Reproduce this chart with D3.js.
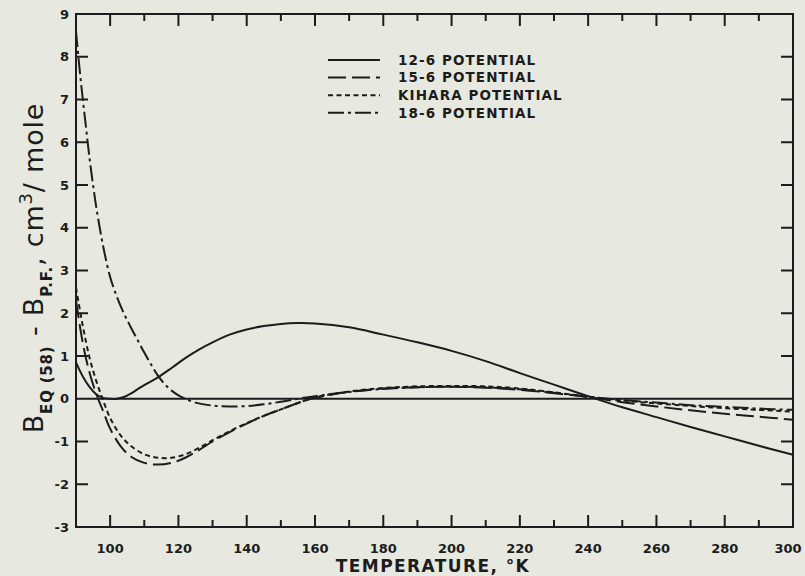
<!DOCTYPE html>
<html>
<head>
<meta charset="utf-8">
<script src="https://cdn.jsdelivr.net/npm/d3@7"></script>
<style>
  html, body { margin: 0; padding: 0; background: #e7e9e0; overflow: hidden; }
  #chart { position: relative; width: 805px; height: 576px; }
  svg { display: block; font-family: "DejaVu Sans", "Liberation Sans", sans-serif; }
  .frame { position: absolute; box-sizing: border-box; border: 2px solid #1c1c1c; pointer-events: none; }
</style>
</head>
<body>
<div id="chart"></div>
<script>
// temperatures (°K) and B_EQ(58) - B_P.F. (cm^3/mole)
const temps126 = [90, 92, 94, 96, 98, 100, 102, 104, 106, 108, 110, 114, 118, 122, 126, 130, 135, 140, 145, 150, 155, 160, 170, 180, 190, 200, 210, 220, 230, 240, 250, 260, 270, 280, 290, 300];
const vals126  = [0.85, 0.52, 0.27, 0.1, 0.02, 0.0, 0.0, 0.04, 0.12, 0.22, 0.32, 0.5, 0.72, 0.95, 1.15, 1.32, 1.5, 1.62, 1.7, 1.75, 1.77, 1.76, 1.67, 1.5, 1.32, 1.12, 0.88, 0.6, 0.33, 0.06, -0.2, -0.43, -0.66, -0.88, -1.1, -1.31];

const temps156 = [90, 92, 94, 96, 98, 100, 103, 106, 110, 114, 118, 122, 126, 130, 135, 140, 145, 150, 155, 160, 170, 180, 190, 200, 210, 220, 230, 240, 250, 260, 270, 280, 290, 300];
const vals156  = [2.3, 1.3, 0.6, 0.1, -0.3, -0.7, -1.1, -1.35, -1.5, -1.54, -1.5, -1.38, -1.2, -1.0, -0.78, -0.58, -0.4, -0.25, -0.1, 0.02, 0.16, 0.24, 0.27, 0.28, 0.26, 0.21, 0.13, 0.04, -0.08, -0.18, -0.27, -0.35, -0.42, -0.49];

const tempsKih = [90, 92, 94, 96, 98, 100, 103, 106, 110, 114, 118, 122, 126, 130, 135, 140, 145, 150, 155, 160, 170, 180, 190, 200, 210, 220, 230, 240, 250, 260, 270, 280, 290, 300];
const valsKih  = [2.6, 1.7, 0.95, 0.4, -0.05, -0.45, -0.85, -1.1, -1.3, -1.38, -1.38, -1.3, -1.15, -0.97, -0.76, -0.57, -0.4, -0.25, -0.1, 0.03, 0.17, 0.25, 0.29, 0.3, 0.29, 0.24, 0.15, 0.05, -0.04, -0.11, -0.17, -0.22, -0.26, -0.30];

const temps186 = [90, 91, 92, 93, 94, 95, 96, 98, 100, 102, 104, 106, 108, 110, 112, 114, 116, 118, 120, 122, 125, 130, 135, 140, 145, 150, 155, 160, 170, 180, 190, 200, 210, 220, 230, 240, 250, 260, 270, 280, 290, 300];
const vals186  = [8.6, 7.75, 7.0, 6.3, 5.6, 5.0, 4.45, 3.55, 2.85, 2.38, 2.0, 1.68, 1.38, 1.08, 0.8, 0.54, 0.34, 0.19, 0.08, 0.0, -0.09, -0.16, -0.18, -0.17, -0.13, -0.07, 0.0, 0.06, 0.16, 0.23, 0.27, 0.28, 0.27, 0.22, 0.14, 0.05, -0.03, -0.09, -0.15, -0.19, -0.23, -0.26];

const seriesNames = ['12-6 POTENTIAL', '15-6 POTENTIAL', 'KIHARA POTENTIAL', '18-6 POTENTIAL'];
const xTickLabels = [100, 120, 140, 160, 180, 200, 220, 240, 260, 280, 300];
const yTickLabels = [-3, -2, -1, 0, 1, 2, 3, 4, 5, 6, 7, 8, 9];

const width = 805, height = 576;
const margin = { top: 14, right: 12, bottom: 49, left: 76 };
const ink = '#1c1c1c';

const svg = d3.select('#chart').append('svg')
    .attr('width', width)
    .attr('height', height);

const x = d3.scaleLinear().domain([90, 300]).range([margin.left, width - margin.right]);
const y = d3.scaleLinear().domain([-3, 9]).range([height - margin.bottom, margin.top]);
const plotL = x(90), plotR = x(300), plotB = y(-3), plotT = y(9);

const series = [
    { name: seriesNames[0], t: temps126, v: vals126, dash: null },
    { name: seriesNames[1], t: temps156, v: vals156, dash: '18,6' },
    { name: seriesNames[2], t: tempsKih, v: valsKih, dash: '5,3.5' },
    { name: seriesNames[3], t: temps186, v: vals186, dash: '16,4,3,4' }
];

// curves (all values lie inside the axis domain)
const lineGen = d3.line()
    .x(d => x(d[0]))
    .y(d => y(d[1]))
    .curve(d3.curveCatmullRom.alpha(0.5));

const plot = svg.append('g');
series.forEach(s => {
    plot.append('path')
        .attr('d', lineGen(d3.zip(s.t, s.v)))
        .attr('fill', 'none')
        .attr('stroke', ink)
        .attr('stroke-width', 2)
        .attr('stroke-dasharray', s.dash);
});

// frame, zero line and inward ticks (major every 20 K, minor every 10 K)
const minorX = d3.range(100, 300, 10);
const tickLen = v => (v % 20 === 0 ? 12 : 7);
const p = d3.path();
p.rect(plotL, plotT, plotR - plotL, plotB - plotT);
p.moveTo(plotL, y(0)); p.lineTo(plotR, y(0));
minorX.forEach(v => {
    p.moveTo(x(v), plotB); p.lineTo(x(v), plotB - tickLen(v));
    p.moveTo(x(v), plotT); p.lineTo(x(v), plotT + tickLen(v));
});
yTickLabels.forEach(v => {
    p.moveTo(plotL, y(v)); p.lineTo(plotL + 12, y(v));
    p.moveTo(plotR, y(v)); p.lineTo(plotR - 12, y(v));
});
svg.append('path')
    .attr('d', p.toString())
    .attr('fill', 'none')
    .attr('stroke', ink)
    .attr('stroke-width', 2);

// the same frame again as an HTML box laid over the svg
d3.select('#chart').append('div')
    .attr('class', 'frame')
    .style('left', `${plotL - 1}px`)
    .style('top', `${plotT - 1}px`)
    .style('width', `${plotR - plotL + 2}px`)
    .style('height', `${plotB - plotT + 2}px`);
d3.select('#chart').style('position', 'relative');
d3.select('#chart svg').style('position', 'absolute').style('left', '0px').style('top', '0px');

// tick labels
svg.append('g').selectAll('text').data(xTickLabels).join('text')
    .attr('x', d => Math.min(x(d), plotR - 5)).attr('y', plotB + 26)
    .attr('text-anchor', 'middle')
    .attr('fill', ink)
    .style('font-size', '13px')
    .style('font-weight', 'bold')
    .text(d => d);

svg.append('g').selectAll('text').data(yTickLabels).join('text')
    .attr('x', plotL - 7).attr('y', d => y(d))
    .attr('dy', '0.36em')
    .attr('text-anchor', 'end')
    .attr('fill', ink)
    .style('font-size', '13px')
    .style('font-weight', 'bold')
    .text(d => d);

// x title
svg.append('text')
    .attr('x', 433).attr('y', 572)
    .attr('text-anchor', 'middle')
    .attr('fill', ink)
    .style('font-size', '17px')
    .style('font-weight', 'bold')
    .style('letter-spacing', '1.4px')
    .text('TEMPERATURE, °K');

// y title
const yt = svg.append('text')
    .attr('transform', 'translate(43,268) rotate(-90)')
    .attr('text-anchor', 'middle')
    .attr('fill', ink)
    .style('font-size', '27px')
    .style('letter-spacing', '0.8px');
yt.append('tspan').text('B');
yt.append('tspan').attr('dy', 9).style('font-size', '15px').style('font-weight', 'bold').text('EQ (58)');
yt.append('tspan').attr('dy', -9).text(' - B');
yt.append('tspan').attr('dy', 9).style('font-size', '15px').style('font-weight', 'bold').text('P.F.');
yt.append('tspan').attr('dy', -9).text(', cm');
yt.append('tspan').attr('dy', -11).style('font-size', '18px').text('3');
yt.append('tspan').attr('dy', 11).text('/ mole');

// legend
const legend = svg.append('g').attr('transform', 'translate(328,60)');
series.forEach((s, i) => {
    const row = legend.append('g').attr('transform', `translate(0,${i * 17.6})`);
    row.append('line')
        .attr('x1', 0).attr('x2', 52)
        .attr('stroke', ink).attr('stroke-width', 2)
        .attr('stroke-dasharray', s.dash);
    row.append('text')
        .attr('x', 70).attr('dy', '0.36em')
        .attr('fill', ink)
        .style('font-size', '13.5px')
        .style('font-weight', 'bold')
        .style('letter-spacing', '1.1px')
        .text(s.name);
});
</script>
</body>
</html>
